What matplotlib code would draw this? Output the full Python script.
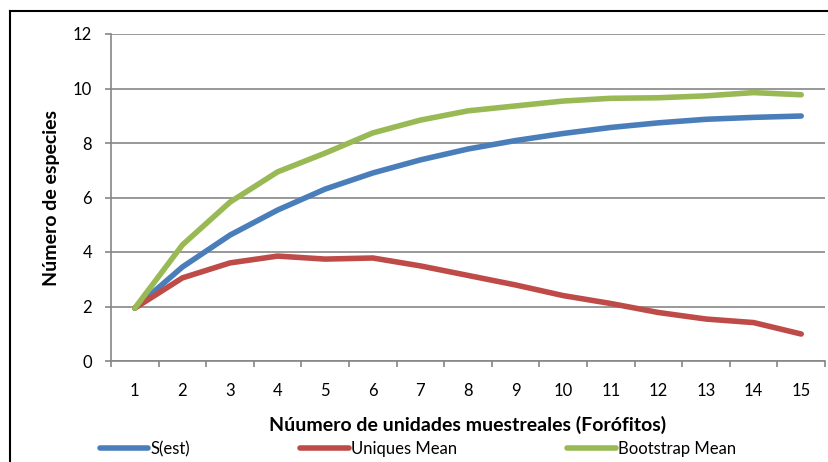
import matplotlib
matplotlib.use("Agg")
import matplotlib.pyplot as plt
from matplotlib.lines import Line2D
import numpy as np

plt.rcParams['font.family'] = ['Lato', 'DejaVu Sans']

# datos
unidades = list(range(1, 16))
s_est = [1.94, 3.45, 4.62, 5.54, 6.31, 6.90, 7.38, 7.78, 8.09, 8.35, 8.57, 8.74, 8.87, 8.94, 8.99]
uniques_mean = [1.94, 3.05, 3.60, 3.85, 3.74, 3.78, 3.49, 3.14, 2.79, 2.40, 2.11, 1.78, 1.54, 1.41, 0.99]
bootstrap_mean = [1.94, 4.26, 5.83, 6.94, 7.63, 8.37, 8.84, 9.18, 9.36, 9.54, 9.64, 9.66, 9.73, 9.85, 9.77]

W, H = 829, 462
fig = plt.figure(figsize=(W / 100, H / 100), dpi=100)
ax = fig.add_axes([111 / W, 1 - 361 / H, (825 - 111) / W, (361 - 34) / H])

gris = '#868686'
ax.plot(unidades, s_est, color='#4A7EBB', lw=4, solid_capstyle='round', solid_joinstyle='round', label='S(est)', zorder=3)
ax.plot(unidades, uniques_mean, color='#BE4B48', lw=4, solid_capstyle='round', solid_joinstyle='round', label='Uniques Mean', zorder=3)
ax.plot(unidades, bootstrap_mean, color='#98B954', lw=4, solid_capstyle='round', solid_joinstyle='round', label='Bootstrap Mean', zorder=3)

ax.set_xlim(0.5, 15.5)
ax.set_ylim(0, 12)
ax.set_yticks(np.arange(0, 13, 2))
ax.yaxis.grid(True, color=gris, lw=1.2)
ax.set_axisbelow(True)

ax.set_xticks(unidades)
ax.set_xticks(np.arange(0.5, 16, 1), minor=True)
ax.tick_params(axis='x', which='major', length=0, pad=16, labelsize=12)
ax.tick_params(axis='x', which='minor', length=4.5, width=1.2, color=gris, direction='out')
ax.tick_params(axis='y', length=4.5, width=1.2, color=gris, pad=9, labelsize=12)

for s in ['top', 'right']:
    ax.spines[s].set_visible(False)
for s in ['left', 'bottom']:
    ax.spines[s].set_color(gris)
    ax.spines[s].set_linewidth(1.2)

ax.set_ylabel('Número de especies', fontsize=14, fontweight='bold', labelpad=9)
ax.set_xlabel('Núumero de unidades muestreales (Forófitos)', fontsize=14, fontweight='bold', labelpad=12)

fig.legend(loc='center', bbox_to_anchor=(418 / W, 1 - 449 / H), ncol=3, frameon=False,
           fontsize=12, handlelength=2.9, handletextpad=0.15, columnspacing=6.6,
           borderaxespad=0)

# borde del area del grafico
fig.add_artist(Line2D([10 / W, 10 / W], [0, 1 - 11 / H], color='black', lw=1.5, transform=fig.transFigure))
fig.add_artist(Line2D([10 / W, 1], [1 - 11 / H, 1 - 11 / H], color='black', lw=1.5, transform=fig.transFigure))

fig.savefig('out.png', dpi=100)
